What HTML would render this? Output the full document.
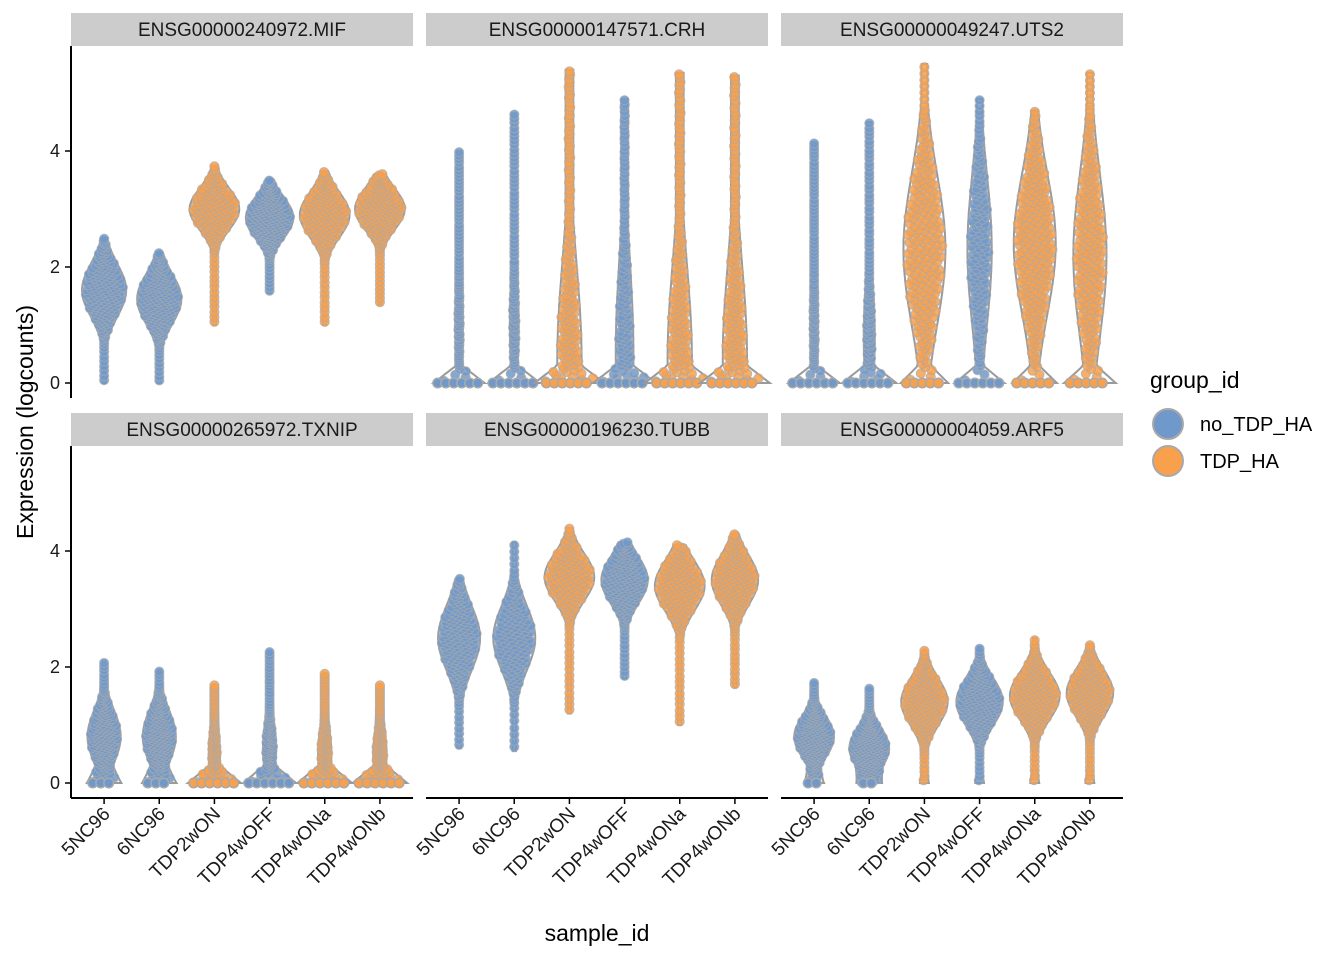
<!DOCTYPE html>
<html><head><meta charset="utf-8"><style>
body{margin:0;background:#fff;}
svg{display:block;font-family:"Liberation Sans",Arial,sans-serif;}
</style></head><body>
<svg id="c" width="1344" height="960" viewBox="0 0 1344 960" xmlns="http://www.w3.org/2000/svg"></svg>
<script>
const samples=["5NC96","6NC96","TDP2wON","TDP4wOFF","TDP4wONa","TDP4wONb"];
const sampleGroup=["no_TDP_HA","no_TDP_HA","TDP_HA","no_TDP_HA","TDP_HA","TDP_HA"];
const genes=["ENSG00000240972.MIF","ENSG00000147571.CRH","ENSG00000049247.UTS2","ENSG00000265972.TXNIP","ENSG00000196230.TUBB","ENSG00000004059.ARF5"];
const yTicks=[0,2,4];
// per violin: [min, max, mode, sd, bodyHalfWidth, stemHalfWidth, zeroBaseHalfWidth]
const violinMIF=[[0,2.5,1.6,0.45,0.4,0.03,0.0],[0,2.25,1.45,0.42,0.4,0.03,0],[1.0,3.75,3.0,0.35,0.45,0.03,0],[1.55,3.5,2.85,0.35,0.43,0.03,0],[1.0,3.65,2.9,0.38,0.45,0.03,0],[1.35,3.6,3.0,0.35,0.45,0.03,0]];
const violinCRH=[[0,4.0,1.0,1.0,0.07,0.04,0.42],[0,4.65,1.0,1.0,0.08,0.04,0.42],[0,5.4,0.4,1.6,0.22,0.07,0.42],[0,4.9,0.5,1.6,0.16,0.06,0.42],[0,5.35,0.4,1.6,0.22,0.07,0.42],[0,5.3,0.4,1.6,0.22,0.07,0.42]];
const violinUTS2=[[0,4.15,1.0,1.0,0.07,0.04,0.42],[0,4.5,0.8,1.0,0.1,0.04,0.42],[0,5.5,2.3,1.3,0.38,0.05,0.35],[0,4.9,2.3,1.3,0.22,0.05,0.4],[0,4.7,2.4,1.2,0.38,0.05,0.35],[0,5.35,2.2,1.4,0.3,0.05,0.38]];
const violinTXNIP=[[0,2.1,0.8,0.45,0.3,0.03,0.25],[0,1.95,0.8,0.45,0.3,0.03,0.25],[0,1.7,0.5,0.5,0.1,0.03,0.42],[0,2.28,0.6,0.5,0.12,0.03,0.42],[0,1.9,0.5,0.5,0.12,0.03,0.42],[0,1.7,0.5,0.5,0.12,0.03,0.42]];
const violinTUBB=[[0.6,3.55,2.5,0.55,0.38,0.03,0],[0.55,4.15,2.5,0.55,0.38,0.03,0],[1.2,4.4,3.55,0.4,0.45,0.03,0],[1.8,4.15,3.5,0.4,0.42,0.03,0],[1.0,4.1,3.4,0.42,0.45,0.03,0],[1.65,4.3,3.5,0.42,0.42,0.03,0]];
const violinARF5=[[0,1.75,0.8,0.35,0.36,0.03,0.15],[0,1.65,0.6,0.35,0.36,0.03,0.15],[0,2.3,1.4,0.4,0.42,0.03,0.05],[0,2.35,1.4,0.4,0.42,0.03,0.05],[0,2.5,1.5,0.4,0.45,0.03,0.05],[0,2.4,1.55,0.4,0.42,0.03,0.05]];
const panels=[violinMIF,violinCRH,violinUTS2,violinTXNIP,violinTUBB,violinARF5];

const NS="http://www.w3.org/2000/svg";
const svg=document.getElementById('c');
function mk(t,a,p){const e=document.createElementNS(NS,t);for(const k in a)e.setAttribute(k,a[k]);(p||svg).appendChild(e);return e;}
const colX=[71,426,781], pw=342;
const rowStrip=[13,413], rowZero=[383,783], unit=58;
const colors={"no_TDP_HA":"#7099cb","TDP_HA":"#f8a04c"};
function xS(c,i){return colX[c]+(i+0.6)*pw/6.2;}
function yS(r,v){return rowZero[r]-v*unit;}
function body(p,y){const[mn,mx,mo,sd,bw,sw]=p;if(y<mn||y>mx)return 0;return Math.max(bw*Math.exp(-0.5*((y-mo)/sd)**2),sw);}
function hw(p,y){let h=body(p,y);const zw=p[6];if(zw>0&&y<0.3&&y>=p[0])h+=zw*(1-y/0.3);return h;}
const fr=x=>x-Math.floor(x);

panels.forEach((pan,pi)=>{
  const c=pi%3,r=Math.floor(pi/3);
  const g=mk('g',{});
  
  
  const st=mk('rect',{x:colX[c],y:rowStrip[r],width:pw,height:33,fill:'#cccccc'},g);
  
  
  const tt=mk('text',{x:colX[c]+pw/2,y:rowStrip[r]+23,'text-anchor':'middle','font-size':19,fill:'#1a1a1a'},g);
  tt.textContent=genes[pi];
  
  
  const unitX=pw/6.2;
  pan.forEach((p,i)=>{
    const cx=xS(c,i),col=colors[sampleGroup[i]];
    const vg=mk('g',{},g);
    
    
    const n=100,L=[],R=[];
    for(let k=0;k<=n;k++){const y=p[0]+(p[1]-p[0])*k/n;const h=hw(p,y)*unitX;L.push((cx-h).toFixed(1)+','+yS(r,y).toFixed(1));R.unshift((cx+h).toFixed(1)+','+yS(r,y).toFixed(1));}
    const path=mk('polygon',{points:L.concat(R).join(' '),fill:'#fff',stroke:'#9a9a9a','stroke-width':2},vg);
    
    
    const G=200,cum=[0];
    for(let k=1;k<=G;k++){const y=p[0]+(p[1]-p[0])*k/G;cum.push(cum[k-1]+body(p,y));}
    const tot=cum[G];
    const N=Math.round(40+tot*4);
    for(let k=0;k<N;k++){
      const u=(k+0.5)/N*tot;let j=1;while(j<G&&cum[j]<u)j++;
      const y=p[0]+(p[1]-p[0])*j/G;
      const h=hw(p,y);
      const xx=cx+(fr(k*0.618034+0.1)*2-1)*Math.max(h*unitX-3,0);
      const pt=mk('circle',{cx:xx.toFixed(1),cy:yS(r,y).toFixed(1),r:4.6,fill:col,'fill-opacity':0.85,stroke:'#a9a9a9','stroke-opacity':0.7,'stroke-width':1},vg);
      
      
    }
    if(p[6]>0.05){
      const hz=(p[6]+p[5])*unitX-4;
      for(let xx=cx-hz;xx<=cx+hz+0.1;xx+=8){
        const pt=mk('circle',{cx:xx.toFixed(1),cy:yS(r,0),r:4.8,fill:col,stroke:'#a9a9a9','stroke-width':1.5},vg);
        
        
      }
    }
  });
  if(c===0){
    const ax=mk('line',{x1:71,x2:71,y1:rowStrip[r]+33,y2:rowZero[r]+15,stroke:'#000','stroke-width':2},g);
    
    
    yTicks.forEach(t=>{
      mk('line',{x1:65,x2:71,y1:yS(r,t),y2:yS(r,t),stroke:'#000','stroke-width':1.5},g);
      const tl=mk('text',{x:60,y:yS(r,t)+6,'text-anchor':'end','font-size':18,fill:'#1a1a1a'},g);
      tl.textContent=t;
      
      
    });
  }
  if(r===1){
    const ax=mk('line',{x1:colX[c],x2:colX[c]+pw,y1:798,y2:798,stroke:'#000','stroke-width':2},g);
    
    
    samples.forEach((s,i)=>{
      const x=xS(c,i);
      mk('line',{x1:x,x2:x,y1:798,y2:804,stroke:'#000','stroke-width':1.5},g);
      const tl=mk('text',{x:x+7,y:815,'text-anchor':'end','font-size':19,fill:'#1a1a1a',transform:`rotate(-45 ${x+7} 815)`},g);
      tl.textContent=s;
      
      
    });
  }
});
let t=mk('text',{x:597,y:941,'text-anchor':'middle','font-size':23,fill:'#000'});t.textContent='sample_id';


t=mk('text',{x:33,y:422,'text-anchor':'middle','font-size':23,fill:'#000',transform:'rotate(-90 33 422)'});t.textContent='Expression (logcounts)';


t=mk('text',{x:1150,y:388,'font-size':23,fill:'#000'});t.textContent='group_id';


["no_TDP_HA","TDP_HA"].forEach((gname,i)=>{
  const lg=mk('g',{});
  
  
  mk('circle',{cx:1168,cy:424+i*37,r:15,fill:colors[gname],stroke:'#a9a9a9','stroke-width':2},lg);
  const tx=mk('text',{x:1200,y:431+i*37,'font-size':20,fill:'#000'},lg);tx.textContent=gname;
});
</script>
</body></html>
